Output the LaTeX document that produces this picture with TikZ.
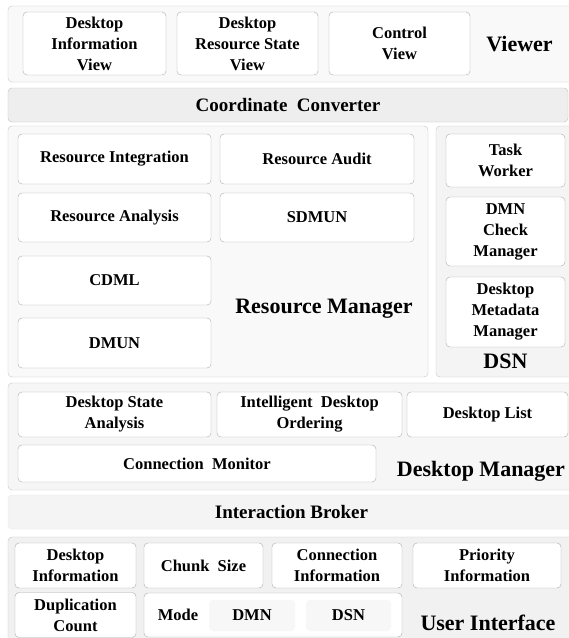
\documentclass[tikz,border=0pt]{standalone}
\usepackage{fontspec}
\setmainfont{Liberation Serif}
\begin{document}
\begin{tikzpicture}[x=1pt,y=-1pt,
  panel/.style={draw=gray!45, fill=gray!5, rounded corners=4pt, inner sep=0pt},
  item/.style={draw=gray!65, fill=white, rounded corners=4pt, inner sep=0pt, align=center, font=\fontsize{16.5}{21}\selectfont\bfseries},
  bar/.style={draw=gray!50, fill=gray!13, rounded corners=4pt, inner sep=0pt, font=\fontsize{19}{22}\selectfont\bfseries},
  title/.style={font=\fontsize{22}{24}\selectfont\bfseries, inner sep=0pt},
  modebox/.style={fill=gray!6, rounded corners=4pt, inner sep=0pt, font=\fontsize{16.5}{21}\selectfont\bfseries}]
\useasboundingbox (0,0) rectangle (569,638);
\clip (0,0) rectangle (569,638);
\fill[white] (0,0) rectangle (569,638);

% viewer
\node[panel, minimum width=567, minimum height=76] (viewer) at (291.5,44) {};
\node[item, minimum width=143, minimum height=63] (infoview) at (94.5,43.5) {Desktop\\Information\\View};
\node[item, minimum width=141, minimum height=63] (stateview) at (247.5,43.5) {Desktop\\Resource State\\View};
\node[item, minimum width=141, minimum height=63] (ctrlview) at (399.5,43.5) {Control\\View};
\node[title] (viewerlbl) at (519.5,44) {Viewer};

\node[bar, minimum width=560, minimum height=34] (converter) at (288,105) {Coordinate\ \ Converter};

% resource manager
\node[panel, minimum width=420, minimum height=251] (resmgr) at (218,251.5) {};
\node[item, minimum width=193, minimum height=50] (integ) at (114.5,159) {Resource Integration};
\node[item, minimum width=194, minimum height=50] (audit) at (317,159) {Resource Audit};
\node[item, minimum width=193, minimum height=49] (analysis) at (114.5,217.5) {Resource Analysis};
\node[item, minimum width=194, minimum height=49] (sdmun) at (317,217.5) {SDMUN};
\node[item, minimum width=193, minimum height=49] (cdml) at (114.5,280.5) {CDML};
\node[item, minimum width=193, minimum height=50] (dmun) at (114.5,343) {DMUN};
\node[title] (resmgrlbl) at (324,309) {Resource Manager};

% dsn
\node[panel, fill=gray!9, minimum width=139, minimum height=251] (dsn) at (505.5,251.5) {};
\node[item, minimum width=119, minimum height=53] (worker) at (505.5,160.5) {Task\\Worker};
\node[item, minimum width=119, minimum height=69] (check) at (505.5,231.5) {DMN\\Check\\Manager};
\node[item, minimum width=119, minimum height=70] (meta) at (505.5,312) {Desktop\\Metadata\\Manager};
\node[title] (dsnlbl) at (505.5,361) {DSN};

% desktop manager
\node[panel, fill=gray!7, minimum width=567, minimum height=107] (deskmgr) at (291.5,436.5) {};
\node[item, minimum width=193, minimum height=45] (stateana) at (114.5,414.5) {Desktop State\\Analysis};
\node[item, minimum width=185, minimum height=45] (ordering) at (309.5,414.5) {Intelligent\ \ Desktop\\Ordering};
\node[item, minimum width=161, minimum height=45] (desklist) at (487.5,414.5) {Desktop List};
\node[item, minimum width=358, minimum height=37] (monitor) at (197,463.5) {Connection\ \ Monitor};
\node[title] (deskmgrlbl) at (481,471) {Desktop Manager};

\node[bar, draw=gray!15, fill=gray!9, minimum width=567, minimum height=34] (broker) at (291.5,512) {Interaction Broker};

% user interface
\node[panel, fill=gray!11, minimum width=567, minimum height=108] (ui) at (291.5,591) {};
\node[item, minimum width=121, minimum height=45] (deskinfo) at (75.5,565.5) {Desktop\\Information};
\node[item, minimum width=119, minimum height=45] (chunk) at (203.5,565.5) {Chunk\ \ Size};
\node[item, minimum width=130, minimum height=45] (conninfo) at (337,565.5) {Connection\\Information};
\node[item, minimum width=148, minimum height=45] (prio) at (487,565.5) {Priority\\Information};
\node[item, minimum width=121, minimum height=45] (dupl) at (75.5,615) {Duplication\\Count};
\node[item, minimum width=258, minimum height=44] (mode) at (273,615) {};
\node[font=\fontsize{16.5}{21}\selectfont\bfseries] (modelbl) at (178,615) {Mode};
\node[modebox, minimum width=86, minimum height=31] (dmnmode) at (252,615.5) {DMN};
\node[modebox, minimum width=85, minimum height=31] (dsnmode) at (348.5,615.5) {DSN};
\node[title] (uilbl) at (488,623) {User Interface};
\end{tikzpicture}
\end{document}
